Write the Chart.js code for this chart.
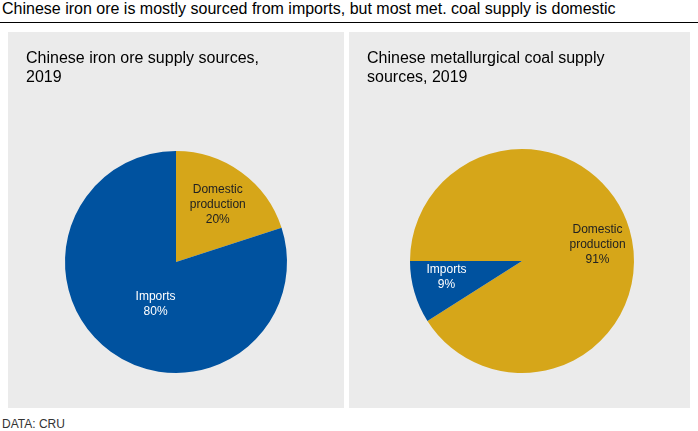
<!DOCTYPE html>
<html><head>
<script src="https://cdn.jsdelivr.net/npm/chart.js@4/dist/chart.umd.min.js"></script>
<style>
  body { margin:0; width:698px; height:431px; background:#fff; font-family:"Liberation Sans", Arial, sans-serif; position:relative; overflow:hidden; }
  #title { position:absolute; left:2px; top:0px; font-size:16px; color:#000; white-space:nowrap; }
  #rule { position:absolute; left:0; top:22px; width:698px; height:1px; background:#000; }
  .panel { position:absolute; top:32px; height:376px; background:#ebebeb; }
  .panel h2 { position:absolute; left:18px; top:16px; margin:0; font-weight:normal; font-size:16px; line-height:19px; color:#000; }
  .panel canvas { position:absolute; left:0; top:0; }
  #foot { position:absolute; left:2px; top:417px; font-size:12px; color:#333; }
</style>
</head><body>
<div id="title">Chinese iron ore is mostly sourced from imports, but most met. coal supply is domestic</div>
<div id="rule"></div>
<div class="panel" style="left:8px;width:336px"><canvas id="ironChart"></canvas><h2>Chinese iron ore supply sources,<br>2019</h2></div>
<div class="panel" style="left:349px;width:341px"><canvas id="coalChart"></canvas><h2>Chinese metallurgical coal supply<br>sources, 2019</h2></div>
<div id="foot">DATA: CRU</div>
<script>
  // Data
  const categories = ["Domestic\nproduction", "Imports"];
  const ironValues = [20, 80];
  const coalValues = [91, 9];
  const sliceColors = ["#d6a619", "#00529f"];
  const labelColors = ["#222", "#fff"];

  // draws "name\nvalue%" at a chosen angle/radius fraction inside each slice
  const sliceLabels = {
    id: "sliceLabels",
    afterDatasetsDraw(chart, args, opts) {
      const ctx = chart.ctx;
      const meta = chart.getDatasetMeta(0);
      const vals = chart.data.datasets[0].data;
      meta.data.forEach((arc, i) => {
        const p = opts.place[i];
        const mid = (arc.startAngle + arc.endAngle) / 2 + (p.shift || 0) * Math.PI / 180;
        const r = arc.outerRadius * p.frac;
        const x = arc.x + Math.cos(mid) * r, y = arc.y + Math.sin(mid) * r;
        const lines = categories[i].split("\n").concat([vals[i] + "%"]);
        ctx.save();
        ctx.font = "12px 'Liberation Sans', Arial, sans-serif";
        ctx.fillStyle = labelColors[i];
        ctx.textAlign = "center";
        ctx.textBaseline = "middle";
        const lh = 15;
        lines.forEach((t, k) => ctx.fillText(t, x, y + (k - (lines.length - 1) / 2) * lh));
        ctx.restore();
      });
    }
  };

  function makePie(id, values, w, pad, rotation, place) {
    const cv = document.getElementById(id);
    cv.style.width = w + "px"; cv.style.height = "376px";
    return new Chart(cv, {
      type: "pie",
      data: { labels: categories, datasets: [{ data: values, backgroundColor: sliceColors, borderWidth: 0 }] },
      options: {
        responsive: false, animation: false, rotation: rotation,
        layout: { padding: pad },
        plugins: { legend: { display: false }, tooltip: { enabled: false }, sliceLabels: { place } }
      },
      plugins: [sliceLabels]
    });
  }

  document.getElementById("ironChart").width = 336;
  document.getElementById("ironChart").height = 376;
  document.getElementById("coalChart").width = 341;
  document.getElementById("coalChart").height = 376;

  makePie("ironChart", ironValues, 336, { top: 119, bottom: 35, left: 57, right: 57 }, 0,
    [{ frac: 0.64, shift: 0 }, { frac: 0.42, shift: -10 }]);
  makePie("coalChart", coalValues, 341, { top: 117, bottom: 35, left: 61, right: 56 }, 270,
    [{ frac: 0.69, shift: 4 }, { frac: 0.69, shift: 4 }]);
</script>
</body></html>
